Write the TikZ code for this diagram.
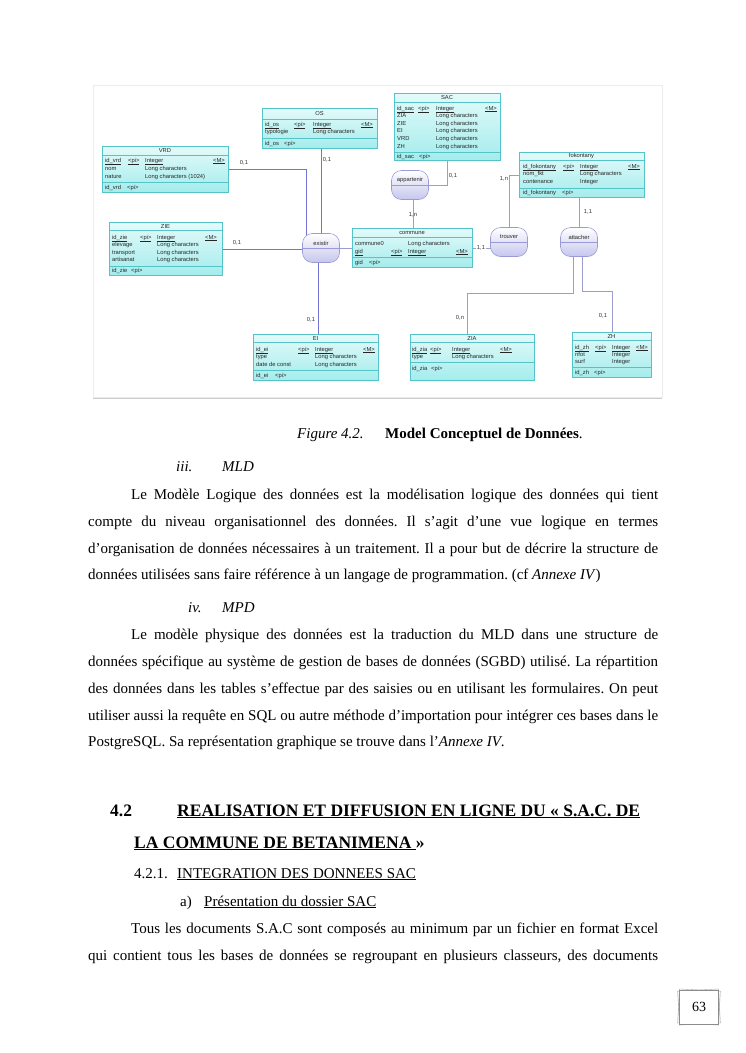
\documentclass[tikz,border=0pt]{standalone}
\usepackage{fontspec}
\setmainfont{Liberation Serif}
\newfontfamily\dg{Liberation Sans}
\usetikzlibrary{shadows}
\pgfdeclarelayer{panel}
\pgfdeclarelayer{wires}
\pgfsetlayers{panel,wires,main}
\definecolor{entc}{HTML}{55C3C8}
\definecolor{entt}{HTML}{E4FAFA}
\definecolor{entb}{HTML}{A4ECEC}
\definecolor{relc}{HTML}{9A9AD8}
\definecolor{relb}{HTML}{C6C6EE}
\definecolor{linkc}{HTML}{9C9CCE}
\definecolor{linkb}{HTML}{7474D6}
\frenchspacing
\tikzset{
 ent/.style={draw=entc, top color=entt, bottom color=entb, inner sep=0pt, line width=0.6pt},
 esep/.style={draw=entc, line width=0.5pt},
 etext/.style={font=\dg\fontsize{5.8}{6}\selectfont, anchor=base west, inner sep=0pt, text=black!85},
 ettl/.style={font=\dg\fontsize{5.8}{6}\selectfont, anchor=center, inner sep=0pt, text=black!85},
 rel/.style={draw=relc, top color=white, bottom color=relb, rounded corners=10pt, minimum width=37pt, minimum height=29pt, inner sep=0pt, line width=0.6pt},
 relsep/.style={draw=relc, line width=0.5pt},
 link/.style={draw=linkc, line width=0.6pt},
 linkx/.style={draw=linkb, line width=0.6pt},
 card/.style={font=\dg\fontsize{5.8}{6}\selectfont, inner sep=0.6pt, text=black!80},
 body/.style={font=\fontsize{15}{18}\selectfont, anchor=base west, inner sep=0pt},
 head/.style={font=\fontsize{17.5}{20}\selectfont\bfseries, anchor=base west, inner sep=0pt},
}
\newcommand\mkent[8]{%
  \node[ent, anchor=north west, minimum width={#4-#2}, minimum height={#5-#3}] (#1) at (#2,#3) {};
  \draw[esep] (#2,#6) -- (#4,#6);
  \draw[esep] (#2,#7) -- (#4,#7);
  \node[ettl] (#1t) at ({(#2+#4)/2},{(#3+#6)/2}) {#8};
}
\newcommand\pkrow[7]{%
  \node[etext] (#1a) at (#4,#2+2) {\underline{#3}};
  \node[etext] (#1b) at (#5,#2+2) {\underline{<pi>}};
  \node[etext] (#1c) at (#6,#2+2) {\underline{Integer}};
  \node[etext] (#1d) at (#7,#2+2) {\underline{<M>}};
}
\newcommand\arow[6]{%
  \node[etext] (#1a) at (#3,#2+2) {#4};
  \node[etext] (#1b) at (#5,#2+2) {#6};
}
\newcommand\krow[5]{%
  \node[etext] (#1a) at (#3,#2+2) {#4};
  \node[etext] (#1b) at (#5,#2+2) {<pi>};
}
\newcommand\mkrel[4]{%
  \node[rel] (#1) at (#2,#3) {};
  \draw[relsep] (#1.west) -- (#1.east);
  \node[ettl] (#1t) at ([yshift=5pt]#1.center) {#4};
}
\begin{document}
\begin{tikzpicture}[x=1pt,y=-1pt]
\useasboundingbox (0,0) rectangle (745,1053);
\begin{pgfonlayer}{panel}
\fill[white] (0,0) rectangle (745,1053);
\path[fill=white, draw=gray!15, drop shadow={shadow xshift=0pt,shadow yshift=-2pt,opacity=0.4}] (93,85) rectangle (662,397);
\end{pgfonlayer}

% entities
\mkent{vrd}{102}{146}{228}{192}{155}{182}{VRD}
\pkrow{vrd1}{160}{id\_vrd}{105}{128}{145}{213}
\arow{vrd2}{168}{105}{nom}{145}{Long characters}
\arow{vrd3}{176}{105}{nature}{145}{Long characters (1024)}
\krow{vrdk}{187}{105}{id\_vrd}{127}

\mkent{os}{262}{108}{377}{148}{119}{138}{OS}
\pkrow{os1}{124}{id\_os}{265}{294}{313}{361}
\arow{os2}{131.5}{265}{typologie}{313}{Long characters}
\krow{osk}{143}{265}{id\_os}{284}

\mkent{sac}{394}{93}{500}{160}{102}{152}{SAC}
\pkrow{sac1}{108}{id\_sac}{397}{418}{436}{485}
\arow{sac2}{115.6}{397}{ZIA}{436}{Long characters}
\arow{sac3}{123.2}{397}{ZIE}{436}{Long characters}
\arow{sac4}{130.8}{397}{EI}{436}{Long characters}
\arow{sac5}{138.4}{397}{VRD}{436}{Long characters}
\arow{sac6}{146}{397}{ZH}{436}{Long characters}
\krow{sack}{156}{397}{id\_sac}{419}

\mkent{fok}{519}{152}{644}{197}{160}{188}{fokontany}
\pkrow{fok1}{166}{id\_fokontany}{523}{563}{580}{628}
\arow{fok2}{173.5}{523}{nom\_fkt}{580}{Long characters}
\arow{fok3}{181}{523}{contenance}{580}{Integer}
\krow{fokk}{192.5}{523}{id\_fokontany}{562}

\mkent{zie}{109}{222}{222}{275}{230}{266}{ZIE}
\pkrow{zie1}{237}{id\_zie}{112}{140}{157}{205}
\arow{zie2}{244.5}{112}{elevage}{157}{Long characters}
\arow{zie3}{252}{112}{transport}{157}{Long characters}
\arow{zie4}{259.5}{112}{artisanat}{157}{Long characters}
\krow{ziek}{270.5}{112}{id\_zie}{131}

\mkent{com}{352}{228}{472}{267}{237}{257}{commune}
\arow{com1}{243}{355}{commune0}{408}{Long characters}
\pkrow{com2}{251}{gid}{355}{391}{408}{456}
\krow{comk}{262}{355}{gid}{369}

\mkent{ei}{253}{334}{378}{380}{342}{370}{EI}
\pkrow{ei1}{349}{id\_ei}{256}{298}{315}{363}
\arow{ei2}{356.5}{256}{type}{315}{Long characters}
\arow{ei3}{364}{256}{date de const}{315}{Long characters}
\krow{eik}{375}{256}{id\_ei}{275}

\mkent{zia}{410}{334}{534}{380}{342}{362}{ZIA}
\pkrow{zia1}{349}{id\_zia}{412}{430}{452}{500}
\arow{zia2}{356.5}{412}{type}{452}{Long characters}
\krow{ziak}{368}{412}{id\_zia}{431}

\mkent{zh}{572}{332}{651}{377}{340}{367}{ZH}
\pkrow{zh1}{347}{id\_zh}{575}{595}{612}{636}
\arow{zh2}{354}{575}{nfot}{612}{Integer}
\arow{zh3}{361}{575}{surf}{612}{Integer}
\krow{zhk}{372}{575}{id\_zh}{594}

% relations
\mkrel{app}{410}{185}{appartenir}
\mkrel{exi}{321}{248}{existir}
\mkrel{tro}{509}{242}{trouver}
\mkrel{att}{579}{242}{attacher}

\coordinate (jz) at (0,293);
\coordinate (jh) at (0,291);

\begin{pgfonlayer}{wires}
\draw[linkx] (vrd.east) -| ([xshift=-15pt]exi.center);
\draw[linkx] (exi.center |- os.south) -- (exi.center);
\draw[linkx] (zie.east) -- (zie.east -| exi.center);
\draw[link] (exi.center) -- (exi.center -| com.west);
\draw[linkx] ([xshift=-3pt]exi.center) -- ([xshift=-3pt]exi.center |- ei.north);
\draw[link] (sac.south) |- (app.center);
\draw[link] ([xshift=3pt]app.center) -- ([xshift=3pt]app.center |- com.north);
\draw[link] (tro.center) |- (fok.west);
\draw[link] (com.east) -- (com.east -| tro.center);
\draw[link] (att.center) -- (att.center |- fok.south);
\draw[link] ([xshift=-6pt]att.center) |- ([xshift=-5pt]zia.north |- jz) -- ([xshift=-5pt]zia.north);
\draw[link] ([xshift=3pt]att.center) |- (zh.north |- jh) -- (zh.north);
\end{pgfonlayer}

% cardinalities
\node[card] (c1) at (244,163) {0,1};
\node[card] (c2) at (327,160) {0,1};
\node[card] (c3) at (237,243) {0,1};
\node[card] (c4) at (311,320) {0,1};
\node[card] (c5) at (453,176) {0,1};
\node[card] (c6) at (413,215) {1,n};
\node[card] (c7) at (504,179) {1,n};
\node[card, fill=white] (c8) at (481,247.5) {1,1};
\node[card] (c9) at (588,212) {1,1};
\node[card] (c10) at (460,318) {0,n};
\node[card] (c11) at (603,316) {0,1};

% text of the page
\node[body] (cap1) at (297,438) {\itshape Figure 4.2.};
\node[body] (cap2) at (385,438) {\textbf{Model Conceptuel de Données}.};
\node[body] (h3) at (176,471) {\itshape iii.};
\node[body] (h3b) at (222,471) {\itshape MLD};
\node[body] (p11) at (131,499) {\makebox[527pt][s]{Le Modèle Logique des données est la modélisation logique des données qui tient}};
\node[body] (p12) at (88,526) {\makebox[570pt][s]{compte du niveau organisationnel des données. Il s’agit d’une vue logique en termes}};
\node[body] (p13) at (88,553) {\makebox[570pt][s]{d’organisation de données nécessaires à un traitement. Il a pour but de décrire la structure de}};
\node[body] (p14) at (88,579) {données utilisées sans faire référence à un langage de programmation. (cf \textit{Annexe IV})};
\node[body] (h4) at (188,612) {\itshape iv.};
\node[body] (h4b) at (222,612) {\itshape MPD};
\node[body] (p21) at (131,639) {\makebox[527pt][s]{Le modèle physique des données est la traduction du MLD dans une structure de}};
\node[body] (p22) at (88,666) {\makebox[570pt][s]{données spécifique au système de gestion de bases de données (SGBD) utilisé. La répartition}};
\node[body] (p23) at (88,693) {\makebox[570pt][s]{des données dans les tables s’effectue par des saisies ou en utilisant les formulaires. On peut}};
\node[body] (p24) at (88,720) {\makebox[570pt][s]{utiliser aussi la requête en SQL ou autre méthode d’importation pour intégrer ces bases dans le}};
\node[body] (p25) at (88,746) {PostgreSQL. Sa représentation graphique se trouve dans l’\textit{Annexe IV}.};
\node[head] (s1) at (110,816) {4.2};
\node[head] (s2) at (177,816) {\underline{\makebox[463pt][s]{REALISATION ET DIFFUSION EN LIGNE DU « S.A.C. DE}}};
\node[head] (s3) at (134,848) {\underline{LA COMMUNE DE BETANIMENA\ }»};
\node[body] (s4) at (134,878) {4.2.1.};
\node[body] (s5) at (177,878) {\underline{INTEGRATION DES DONNEES SAC}};
\node[body] (s6) at (180,906) {a)};
\node[body] (s7) at (204,906) {\underline{Présentation du dossier SAC}};
\node[body] (p31) at (131,933) {\makebox[527pt][s]{Tous les documents S.A.C sont composés au minimum par un fichier en format Excel}};
\node[body] (p32) at (88,960) {\makebox[570pt][s]{qui contient tous les bases de données se regroupant en plusieurs classeurs, des documents}};

% page number
\node[draw=gray!70, rotate=3, minimum width=41pt, minimum height=34pt] (pgA) at (699,1007) {};
\node[draw=gray!70, rotate=-3, minimum width=41pt, minimum height=34pt] (pgB) at (699,1007) {};
\node[draw=gray!90, fill=white, minimum width=39pt, minimum height=34pt, font=\fontsize{14}{16}\selectfont] (pg) at (699,1007) {63};
\end{tikzpicture}
\end{document}
